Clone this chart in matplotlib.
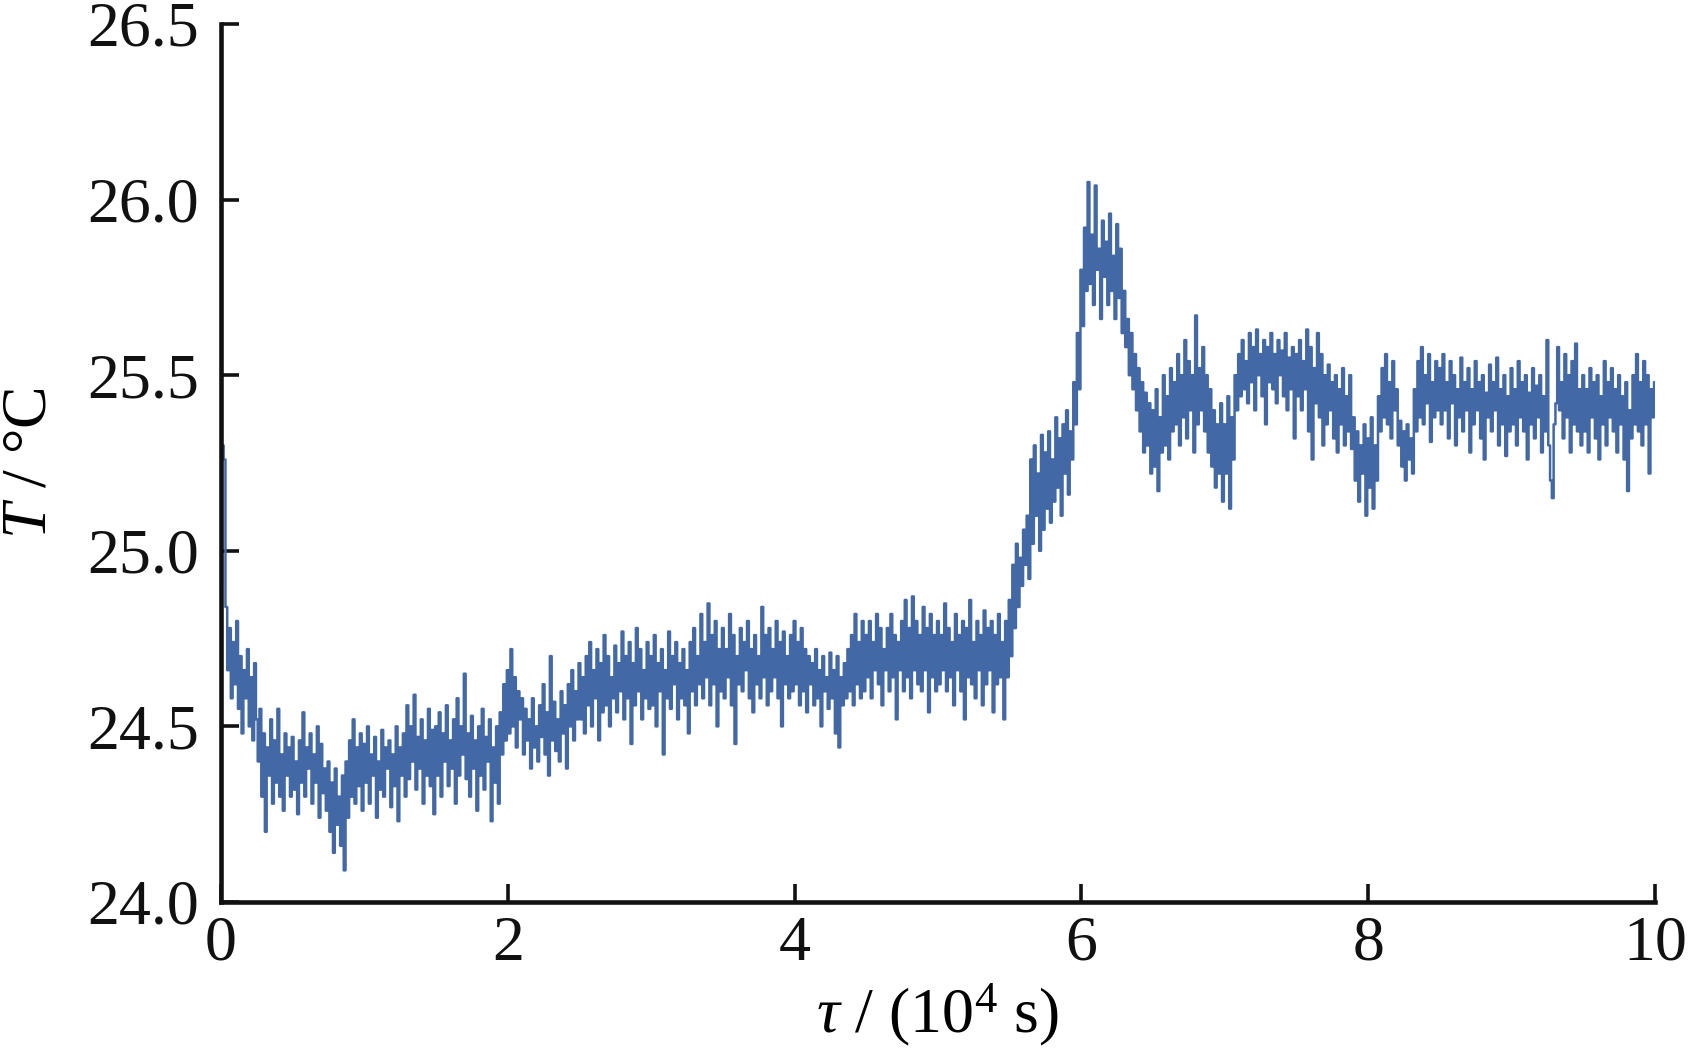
import numpy as np
import matplotlib
matplotlib.use('Agg')
import matplotlib.pyplot as plt

plt.rcParams['font.family'] = ['Liberation Serif', 'DejaVu Serif']
plt.rcParams['mathtext.fontset'] = 'custom'
plt.rcParams['mathtext.rm'] = 'Liberation Serif'
plt.rcParams['mathtext.it'] = 'Liberation Serif:italic'

# temperature readings, one every 0.0125 x 10^4 s
temp_0_25 = [
    24.90, 25.30, 25.26, 24.84, 24.66, 24.78, 24.58, 24.74, 24.62, 24.80,
    24.55, 24.70, 24.48, 24.66, 24.58, 24.72, 24.50, 24.64, 24.46, 24.68,
    24.52, 24.40, 24.55, 24.30, 24.48, 24.20, 24.44, 24.36, 24.52, 24.28,
    24.46, 24.34, 24.55, 24.30, 24.42, 24.26, 24.48, 24.36, 24.44, 24.30,
    24.47, 24.32, 24.40, 24.25, 24.46, 24.34, 24.54, 24.30, 24.44, 24.38,
    24.48, 24.28, 24.42, 24.34, 24.50, 24.24, 24.45, 24.31, 24.38, 24.26,
    24.40, 24.20, 24.34, 24.14, 24.38, 24.22, 24.30, 24.16, 24.36, 24.09,
    24.40, 24.24, 24.46, 24.30, 24.52, 24.28, 24.44, 24.33, 24.48, 24.26,
    24.45, 24.34, 24.50, 24.28, 24.42, 24.36, 24.47, 24.24, 24.40, 24.32,
    24.49, 24.30, 24.44, 24.38, 24.46, 24.27, 24.42, 24.33, 24.50, 24.23,
    24.44, 24.36, 24.48, 24.30, 24.56, 24.35, 24.50, 24.40, 24.59, 24.32,
    24.47, 24.38, 24.52, 24.28, 24.46, 24.36, 24.55, 24.33, 24.49, 24.25,
    24.50, 24.36, 24.54, 24.30, 24.48, 24.40, 24.56, 24.33, 24.46, 24.38,
    24.52, 24.28, 24.58, 24.36, 24.50, 24.42, 24.65, 24.35, 24.48, 24.30,
    24.53, 24.38, 24.46, 24.26, 24.50, 24.36, 24.55, 24.32, 24.47, 24.40,
    24.52, 24.23, 24.44, 24.34, 24.50, 24.28, 24.54, 24.42, 24.62, 24.46,
    24.66, 24.48, 24.72, 24.50, 24.64, 24.44, 24.60, 24.52, 24.58, 24.42,
    24.55, 24.46, 24.52, 24.38, 24.58, 24.44, 24.50, 24.40, 24.56, 24.47,
    24.62, 24.42, 24.54, 24.36, 24.70, 24.46, 24.57, 24.43, 24.52, 24.40,
    24.60, 24.48, 24.56, 24.38, 24.62, 24.50, 24.66, 24.46, 24.60, 24.52,
]
temp_25_50 = [
    24.68, 24.52, 24.64, 24.48, 24.70, 24.56, 24.74, 24.50, 24.66, 24.58,
    24.72, 24.46, 24.68, 24.54, 24.76, 24.56, 24.70, 24.50, 24.64, 24.58,
    24.73, 24.54, 24.68, 24.60, 24.77, 24.52, 24.70, 24.58, 24.74, 24.45,
    24.68, 24.56, 24.78, 24.60, 24.72, 24.52, 24.66, 24.58, 24.74, 24.55,
    24.70, 24.56, 24.76, 24.50, 24.68, 24.60, 24.72, 24.42, 24.66, 24.58,
    24.77, 24.55, 24.70, 24.62, 24.74, 24.52, 24.68, 24.58, 24.72, 24.56,
    24.66, 24.48, 24.74, 24.60, 24.78, 24.56, 24.70, 24.62, 24.82, 24.58,
    24.74, 24.64, 24.85, 24.56, 24.76, 24.62, 24.80, 24.50, 24.72, 24.60,
    24.78, 24.58, 24.72, 24.64, 24.82, 24.56, 24.76, 24.45, 24.70, 24.62,
    24.78, 24.60, 24.74, 24.66, 24.80, 24.58, 24.72, 24.54, 24.76, 24.62,
    24.70, 24.58, 24.84, 24.64, 24.76, 24.56, 24.78, 24.60, 24.72, 24.64,
    24.80, 24.58, 24.74, 24.50, 24.77, 24.62, 24.70, 24.58, 24.76, 24.60,
    24.80, 24.62, 24.74, 24.56, 24.78, 24.60, 24.72, 24.54, 24.70, 24.62,
    24.68, 24.56, 24.72, 24.58, 24.66, 24.50, 24.70, 24.60, 24.64, 24.55,
    24.71, 24.58, 24.66, 24.48, 24.70, 24.44, 24.64, 24.56, 24.68, 24.58,
    24.72, 24.60, 24.76, 24.56, 24.82, 24.62, 24.74, 24.58, 24.80, 24.60,
    24.76, 24.64, 24.80, 24.58, 24.74, 24.66, 24.82, 24.62, 24.78, 24.56,
    24.72, 24.66, 24.78, 24.60, 24.82, 24.64, 24.76, 24.52, 24.74, 24.66,
    24.80, 24.60, 24.86, 24.64, 24.78, 24.58, 24.87, 24.66, 24.80, 24.62,
    24.76, 24.60, 24.84, 24.66, 24.78, 24.54, 24.82, 24.64, 24.76, 24.60,
]
temp_50_75 = [
    24.80, 24.62, 24.76, 24.66, 24.85, 24.60, 24.78, 24.64, 24.74, 24.56,
    24.82, 24.66, 24.76, 24.60, 24.80, 24.52, 24.78, 24.64, 24.86, 24.62,
    24.74, 24.58, 24.80, 24.66, 24.76, 24.56, 24.83, 24.62, 24.78, 24.66,
    24.80, 24.54, 24.76, 24.62, 24.82, 24.64, 24.74, 24.52, 24.80, 24.64,
    24.86, 24.70, 24.96, 24.78, 25.02, 24.84, 24.98, 24.90, 25.06, 24.96,
    25.10, 24.92, 25.26, 25.02, 25.30, 25.10, 25.22, 25.00, 25.33, 25.06,
    25.28, 25.12, 25.34, 25.08, 25.26, 25.14, 25.38, 25.18, 25.32, 25.10,
    25.36, 25.22, 25.40, 25.16, 25.34, 25.26, 25.48, 25.36, 25.62, 25.46,
    25.80, 25.64, 25.92, 25.74, 26.05, 25.76, 25.90, 25.70, 26.04, 25.80,
    25.86, 25.66, 25.94, 25.78, 25.88, 25.70, 25.96, 25.74, 25.84, 25.66,
    25.93, 25.72, 25.86, 25.62, 25.74, 25.58, 25.66, 25.50, 25.62, 25.46,
    25.56, 25.40, 25.52, 25.34, 25.48, 25.28, 25.45, 25.30, 25.42, 25.22,
    25.40, 25.24, 25.46, 25.17, 25.38, 25.28, 25.50, 25.30, 25.44, 25.26,
    25.52, 25.34, 25.48, 25.36, 25.56, 25.30, 25.50, 25.38, 25.60, 25.32,
    25.54, 25.40, 25.50, 25.28, 25.67, 25.36, 25.52, 25.40, 25.58, 25.34,
    25.50, 25.28, 25.46, 25.24, 25.40, 25.18, 25.36, 25.22, 25.42, 25.14,
    25.36, 25.22, 25.44, 25.12, 25.38, 25.26, 25.50, 25.40, 25.56, 25.44,
    25.60, 25.46, 25.54, 25.42, 25.62, 25.48, 25.58, 25.40, 25.63, 25.50,
    25.56, 25.44, 25.60, 25.36, 25.58, 25.48, 25.62, 25.46, 25.56, 25.42,
    25.60, 25.50, 25.57, 25.44, 25.62, 25.40, 25.55, 25.46, 25.58, 25.32,
]
temp_75_100 = [
    25.56, 25.44, 25.60, 25.40, 25.54, 25.46, 25.63, 25.34, 25.58, 25.26,
    25.52, 25.42, 25.62, 25.38, 25.56, 25.30, 25.50, 25.36, 25.53, 25.40,
    25.48, 25.32, 25.50, 25.28, 25.46, 25.36, 25.52, 25.30, 25.44, 25.34,
    25.50, 25.29, 25.38, 25.20, 25.34, 25.14, 25.30, 25.22, 25.36, 25.10,
    25.32, 25.18, 25.38, 25.12, 25.30, 25.20, 25.44, 25.34, 25.52, 25.38,
    25.56, 25.36, 25.48, 25.32, 25.54, 25.40, 25.46, 25.30, 25.37, 25.24,
    25.34, 25.20, 25.36, 25.26, 25.32, 25.22, 25.46, 25.34, 25.54, 25.38,
    25.58, 25.36, 25.50, 25.42, 25.56, 25.31, 25.48, 25.38, 25.54, 25.40,
    25.52, 25.36, 25.56, 25.40, 25.48, 25.32, 25.54, 25.42, 25.50, 25.30,
    25.46, 25.38, 25.55, 25.34, 25.48, 25.40, 25.52, 25.28, 25.46, 25.36,
    25.54, 25.40, 25.48, 25.32, 25.50, 25.26, 25.45, 25.38, 25.53, 25.34,
    25.48, 25.40, 25.55, 25.30, 25.46, 25.36, 25.50, 25.27, 25.44, 25.34,
    25.52, 25.36, 25.46, 25.30, 25.54, 25.38, 25.48, 25.34, 25.50, 25.26,
    25.45, 25.36, 25.52, 25.32, 25.47, 25.38, 25.50, 25.28, 25.44, 25.34,
    25.60, 25.30, 25.20, 25.15, 25.36, 25.42, 25.58, 25.40, 25.48, 25.32,
    25.56, 25.38, 25.50, 25.28, 25.54, 25.36, 25.59, 25.34, 25.46, 25.30,
    25.50, 25.34, 25.46, 25.28, 25.52, 25.38, 25.48, 25.32, 25.50, 25.26,
    25.44, 25.36, 25.54, 25.30, 25.48, 25.38, 25.52, 25.34, 25.46, 25.28,
    25.50, 25.36, 25.44, 25.26, 25.48, 25.17, 25.40, 25.32, 25.50, 25.36,
    25.56, 25.34, 25.48, 25.30, 25.54, 25.36, 25.50, 25.22, 25.46, 25.38,
    25.48,
]
step = 0.0125

x_ticks = [0, 2, 4, 6, 8, 10]
y_ticks = [24.0, 24.5, 25.0, 25.5, 26.0, 26.5]
y_labels = ['24.0', '24.5', '25.0', '25.5', '26.0', '26.5']

temp = np.concatenate([temp_0_25, temp_25_50, temp_50_75, temp_75_100])
tau = np.arange(len(temp)) * step

fig = plt.figure(figsize=(16.88, 10.52), dpi=100)
ax = fig.add_axes([0.1309, 0.1426, 0.8495, 0.8346])

ax.plot(tau, temp, color='#4368a6', lw=1.8, drawstyle='steps-mid')

ax.set_xlim(0, 10)
ax.set_ylim(24, 26.5)
ax.set_xticks(x_ticks)
ax.set_xticklabels([str(t) for t in x_ticks])
ax.set_yticks(y_ticks)
ax.set_yticklabels(y_labels)

for side in ['top', 'right']:
    ax.spines[side].set_visible(False)
for side in ['left', 'bottom']:
    ax.spines[side].set_linewidth(3.3)
    ax.spines[side].set_color('#111111')

ax.tick_params(direction='in', length=13, width=2.6, labelsize=46,
               colors='#111111')
ax.tick_params(axis='x', pad=10)
ax.tick_params(axis='y', pad=16)

ax.set_xlabel(r'$\tau$ / (10$^4$ s)', fontsize=46, labelpad=5)
ax.set_ylabel(r'$T$ / °C', fontsize=46, labelpad=20)

fig.savefig('out.png', dpi=100)
